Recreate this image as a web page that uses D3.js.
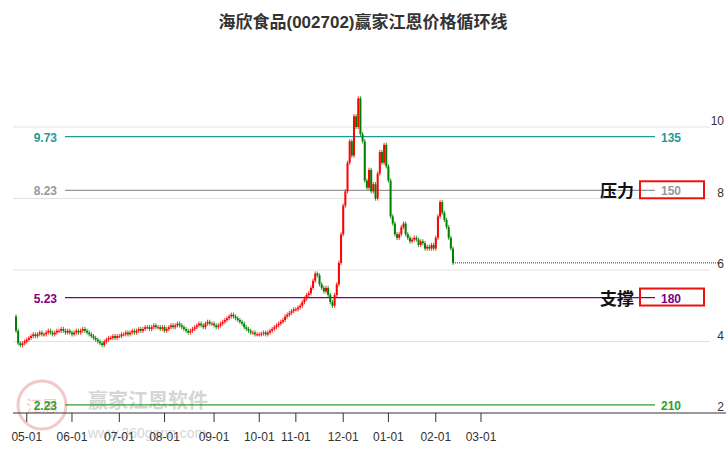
<!DOCTYPE html>
<html><head><meta charset="utf-8">
<script src="https://cdn.jsdelivr.net/npm/d3@7"></script>
<style>body{margin:0;background:#fff;font-family:"Liberation Sans","Noto Sans CJK SC",sans-serif}</style>
</head><body>
<script>
// closes per month (label of month, values), one per trading day
const months = [
  ["04", [4.3, 3.95, 3.9, 3.95, 4.0]],
  ["05-01", [4.05,4.1,4.15,4.2,4.15,4.2,4.25,4.2,4.2,4.25,4.3,4.25,4.2,4.25,4.3,4.3,4.35,4.3,4.25,4.3,4.25]],
  ["06-01", [4.2,4.25,4.3,4.25,4.3,4.35,4.3,4.25,4.2,4.15,4.1,4.05,4.0,3.95,3.9,4.0,4.05,4.1,4.1,4.15,4.1,4.15]],
  ["07-01", [4.15,4.2,4.2,4.25,4.2,4.25,4.3,4.25,4.3,4.35,4.3,4.35,4.4,4.4,4.35,4.4,4.45,4.4,4.4,4.35,4.4]],
  ["08-01", [4.3,4.35,4.4,4.45,4.4,4.45,4.5,4.45,4.4,4.35,4.3,4.25,4.3,4.35,4.4,4.45,4.5,4.45,4.4,4.5,4.55,4.5,4.5]],
  ["09-01", [4.45,4.4,4.45,4.5,4.55,4.6,4.65,4.7,4.75,4.7,4.65,4.6,4.55,4.5,4.4,4.35,4.3,4.25,4.25,4.2,4.2]],
  ["10-01", [4.2,4.22,4.25,4.2,4.25,4.3,4.35,4.4,4.45,4.5,4.55,4.6,4.7,4.75,4.8,4.85,4.9]],
  ["11-01", [4.9,4.95,5.0,5.1,5.2,5.3,5.35,5.5,5.7,5.9,5.85,5.6,5.5,5.4,5.5,5.3,5.1,5.0,5.3,5.6,6.2,7.0]],
  ["12-01", [7.8,8.2,9.0,9.6,9.2,10.3,10.0,10.8,9.8,9.6,8.5,8.3,8.8,8.2,8.4,8.0,8.7,9.3,9.0,9.5,8.9]],
  ["01-01", [8.5,7.5,7.3,7.0,6.9,7.0,7.2,7.3,7.0,6.9,6.8,6.85,6.9,6.85,6.7,6.8,6.75,6.6,6.65,6.6,6.7,6.6]],
  ["02-01", [6.9,7.5,7.9,7.6,7.4,7.2,6.9,6.6,6.2]]
];
const nextMonth = ["03-01", 21];
const levels = [
  {v: 9.73, n: "135", c: "#1f9a9a"},
  {v: 8.23, n: "150", c: "#999999"},
  {v: 5.23, n: "180", c: "#800080"},
  {v: 2.23, n: "210", c: "#2e9e2e"}
];
const yTicks = [2, 4, 6, 8, 10];

const W = 726, H = 450;
const svg = d3.select("body").append("svg").attr("width", W).attr("height", H);

const candles = [];
const ticks = [];
let prev = 4.7;
months.forEach(([lab, vals]) => {
  if (lab.includes("-")) ticks.push({i: candles.length, lab});
  vals.forEach(c => {
    const o = prev;
    candles.push({i: candles.length, o, c, h: Math.max(o, c) + 0.06, l: Math.min(o, c) - 0.06});
    prev = c;
  });
});
ticks.push({i: ticks[ticks.length - 1].i + nextMonth[1], lab: nextMonth[0]});

const x = d3.scaleLinear().domain([0, candles.length - 1]).range([16, 453]);
const y = d3.scaleLinear().domain([2, 10]).range([413, 127]);

svg.append("text").attr("x", 363).attr("y", 28).attr("text-anchor", "middle")
  .attr("font-size", 17).attr("font-weight", "bold").attr("fill", "#333")
  .text("海欣食品(002702)赢家江恩价格循环线");

// grid
svg.selectAll(".grid").data(yTicks.slice(1)).enter().append("line")
  .attr("x1", 13).attr("x2", 710).attr("y1", d => y(d)).attr("y2", d => y(d))
  .attr("stroke", "#e2e2e2");
svg.selectAll(".yl").data(yTicks).enter().append("text")
  .attr("x", 724).attr("y", d => y(d) - 2).attr("text-anchor", "end")
  .attr("font-size", 12).attr("fill", "#333").text(d => d);

// watermark
const wm = svg.append("g").attr("opacity", 0.3);
wm.append("circle").attr("cx", 42).attr("cy", 405).attr("r", 24).attr("fill", "none").attr("stroke", "#d05050").attr("stroke-width", 3);
wm.append("text").attr("x", 42).attr("y", 412).attr("text-anchor", "middle").attr("font-size", 16).attr("fill", "#d05050").text("江恩");
wm.append("text").attr("x", 88).attr("y", 408).attr("font-size", 20).attr("font-weight", "bold").attr("fill", "#777").text("赢家江恩软件");
wm.append("text").attr("x", 88).attr("y", 438).attr("font-size", 14).attr("fill", "#777").text("www.360gann.com");

// x axis
const xa = svg.append("g").attr("transform", "translate(0,413)");
xa.append("line").attr("x1", 13).attr("x2", 726).attr("stroke", "#333");
xa.selectAll(".t").data(ticks).enter().append("line")
  .attr("x1", d => x(d.i)).attr("x2", d => x(d.i)).attr("y1", 0).attr("y2", 9).attr("stroke", "#333");
xa.selectAll(".tl").data(ticks).enter().append("text")
  .attr("x", d => x(d.i)).attr("y", 28).attr("text-anchor", "middle")
  .attr("font-size", 12).attr("fill", "#333").text(d => d.lab);

// levels
levels.forEach(L => {
  svg.append("line").attr("x1", 65).attr("x2", 655).attr("y1", y(L.v)).attr("y2", y(L.v))
    .attr("stroke", L.c).attr("stroke-width", 1.3);
  svg.append("text").attr("x", 57).attr("y", y(L.v) + 5).attr("text-anchor", "end")
    .attr("font-size", 12).attr("font-weight", "bold").attr("fill", L.c).text(L.v.toFixed(2));
  svg.append("text").attr("x", 671).attr("y", y(L.v) + 5).attr("text-anchor", "middle")
    .attr("font-size", 12).attr("font-weight", "bold").attr("fill", L.c).text(L.n);
});
[[8.23, "压力"], [5.23, "支撑"]].forEach(([v, t]) => {
  svg.append("rect").attr("x", 640).attr("y", y(v) - 9).attr("width", 64).attr("height", 17)
    .attr("fill", "none").attr("stroke", "#ee1111").attr("stroke-width", 2);
  svg.append("text").attr("x", 617).attr("y", y(v) + 7).attr("text-anchor", "middle")
    .attr("font-size", 17).attr("font-weight", "bold").attr("fill", "#111").text(t);
});

// candles
const g = svg.append("g");
candles.forEach(d => {
  const col = d.c >= d.o ? "#ff0000" : "#008000";
  const cx = x(d.i);
  g.append("line").attr("x1", cx).attr("x2", cx).attr("y1", y(d.h)).attr("y2", y(d.l)).attr("stroke", col).attr("stroke-width", 0.8);
  g.append("rect").attr("x", cx - 1).attr("width", 2)
    .attr("y", y(Math.max(d.o, d.c))).attr("height", Math.max(1, Math.abs(y(d.o) - y(d.c))))
    .attr("fill", col);
});
const last = candles[candles.length - 1];
svg.append("line").attr("x1", x(last.i)).attr("x2", 718).attr("y1", y(last.c)).attr("y2", y(last.c))
  .attr("stroke", "#006400").attr("stroke-dasharray", "1,1");
</script>
</body></html>
